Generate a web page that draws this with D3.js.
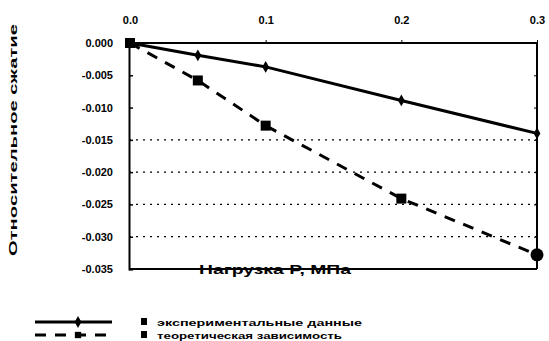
<!DOCTYPE html>
<html><head><meta charset="utf-8">
<script src="https://cdn.jsdelivr.net/npm/d3@7"></script>
<style>body{margin:0;background:#fff}svg{display:block}text{font-family:"Liberation Sans",Arial,sans-serif;font-weight:bold;fill:#000}</style>
</head><body><svg id="c" width="549" height="341"></svg>
<script>
const loads = [0, 0.05, 0.1, 0.2, 0.3];
const series1 = [0, -0.0019, -0.0037, -0.0089, -0.0140];
const series2 = [0, -0.0058, -0.0128, -0.0241, -0.0328];
const xTicks = [0, 0.1, 0.2, 0.3];
const xTickLabels = ["0.0", "0.1", "0.2", "0.3"];
const yTicks = [0, -0.005, -0.010, -0.015, -0.020, -0.025, -0.030, -0.035];
const yTickLabels = ["0.000", "-0.005", "-0.010", "-0.015", "-0.020", "-0.025", "-0.030", "-0.035"];
const gridValues = [-0.015, -0.020, -0.025, -0.030];
const xTitle = "Нагрузка P, МПа";
const yTitle = "Относительное сжатие";
const legendLabels = ["экспериментальные данные", "теоретическая зависимость"];

const svg = d3.select("#c");
const L = 129, R = 537, T = 43, B = 269;
const x = d3.scaleLinear().domain([0, 0.3]).range([L + 1, R]);
const y = d3.scaleLinear().domain([0, -0.035]).range([T, B]);

// grid
svg.append("g").selectAll("line").data(gridValues).join("line")
  .attr("x1", L).attr("x2", R).attr("y1", d => y(d)).attr("y2", d => y(d))
  .attr("stroke", "#000").attr("stroke-width", 1.3).attr("stroke-dasharray", "2,5");

// y axis (left, ticks inside)
const yAxis = d3.axisRight(y).tickValues(yTicks).tickSize(4).tickFormat("");
const gy = svg.append("g").attr("transform", `translate(${L},0)`).call(yAxis);
gy.select(".domain").attr("stroke-width", 2);
gy.selectAll(".tick line").attr("stroke-width", 1.5);
svg.append("g").selectAll("text").data(yTicks).join("text")
  .attr("x", 113).attr("y", d => y(d) + 4).attr("text-anchor", "end")
  .attr("font-size", 11).text((d, i) => yTickLabels[i]);

// x axis (top, labels above)
const xAxis = d3.axisTop(x).tickValues(xTicks).tickSize(3).tickFormat((d, i) => xTickLabels[i]);
const gx = svg.append("g").attr("transform", `translate(0,${T})`).call(xAxis);
gx.select(".domain").attr("stroke-width", 2).attr("d", `M${L},0H${R}`);
gx.selectAll(".tick text").attr("font-size", 11).attr("y", -19).attr("dy", 0)
  .style("font-family", '"Liberation Sans",Arial,sans-serif').style("font-weight", "bold");

// bottom and right border
svg.append("line").attr("x1", L).attr("x2", R).attr("y1", B).attr("y2", B).attr("stroke", "#000").attr("stroke-width", 2);
svg.append("line").attr("x1", R).attr("x2", R).attr("y1", T).attr("y2", B).attr("stroke", "#000").attr("stroke-width", 2);
const gr = svg.append("g").attr("transform", `translate(${R},0)`).call(d3.axisLeft(y).tickValues(yTicks).tickSize(3).tickFormat(""));
gr.select(".domain").remove();

// lines
const line = d3.line().x(d => x(d[0])).y(d => y(d[1]));
const d1 = loads.map((v, i) => [v, series1[i]]);
const d2 = loads.map((v, i) => [v, series2[i]]);
svg.append("path").attr("d", line(d2)).attr("fill", "none").attr("stroke", "#000").attr("stroke-width", 3).attr("stroke-dasharray", "11,9");
svg.append("path").attr("d", line(d1)).attr("fill", "none").attr("stroke", "#000").attr("stroke-width", 3);

// markers series1: small diamonds
svg.append("g").selectAll("path").data(d1.slice(1)).join("path")
  .attr("transform", d => `translate(${x(d[0])},${y(d[1])})`)
  .attr("d", d3.symbol().type(d3.symbolDiamond).size(40)).attr("fill", "#000");
// markers series2: squares, last circle
svg.append("g").selectAll("path").data(d2.slice(0, 4)).join("path")
  .attr("transform", d => `translate(${x(d[0])},${y(d[1])})`)
  .attr("d", d3.symbol().type(d3.symbolSquare).size(100)).attr("fill", "#000");
svg.append("circle").attr("cx", x(d2[4][0])).attr("cy", y(d2[4][1])).attr("r", 6.5).attr("fill", "#000");

// titles
svg.append("text").attr("x", 275).attr("y", B + 5).attr("text-anchor", "middle").attr("font-size", 12)
  .attr("textLength", 152).attr("lengthAdjust", "spacingAndGlyphs").text(xTitle);
svg.append("text").attr("transform", "translate(17,140) rotate(-90)").attr("text-anchor", "middle").attr("font-size", 11)
  .attr("textLength", 232).attr("lengthAdjust", "spacingAndGlyphs").text(yTitle);

// legend
const lg = svg.append("g");
lg.append("line").attr("x1", 35).attr("x2", 112).attr("y1", 322).attr("y2", 322).attr("stroke", "#000").attr("stroke-width", 3);
lg.append("path").attr("transform", "translate(78,322)").attr("d", d3.symbol().type(d3.symbolDiamond).size(40));
lg.append("line").attr("x1", 35).attr("x2", 112).attr("y1", 335).attr("y2", 335).attr("stroke", "#000").attr("stroke-width", 3).attr("stroke-dasharray", "11,9");
lg.append("path").attr("transform", "translate(78,335)").attr("d", d3.symbol().type(d3.symbolSquare).size(40));
lg.append("rect").attr("x", 141).attr("y", 318).attr("width", 6).attr("height", 7);
lg.append("text").attr("x", 157).attr("y", 326).attr("font-size", 9).attr("textLength", 205).attr("lengthAdjust", "spacingAndGlyphs").text(legendLabels[0]);
lg.append("rect").attr("x", 141).attr("y", 331).attr("width", 6).attr("height", 7);
lg.append("text").attr("x", 157).attr("y", 339).attr("font-size", 9).attr("textLength", 185).attr("lengthAdjust", "spacingAndGlyphs").text(legendLabels[1]);
</script></body></html>
